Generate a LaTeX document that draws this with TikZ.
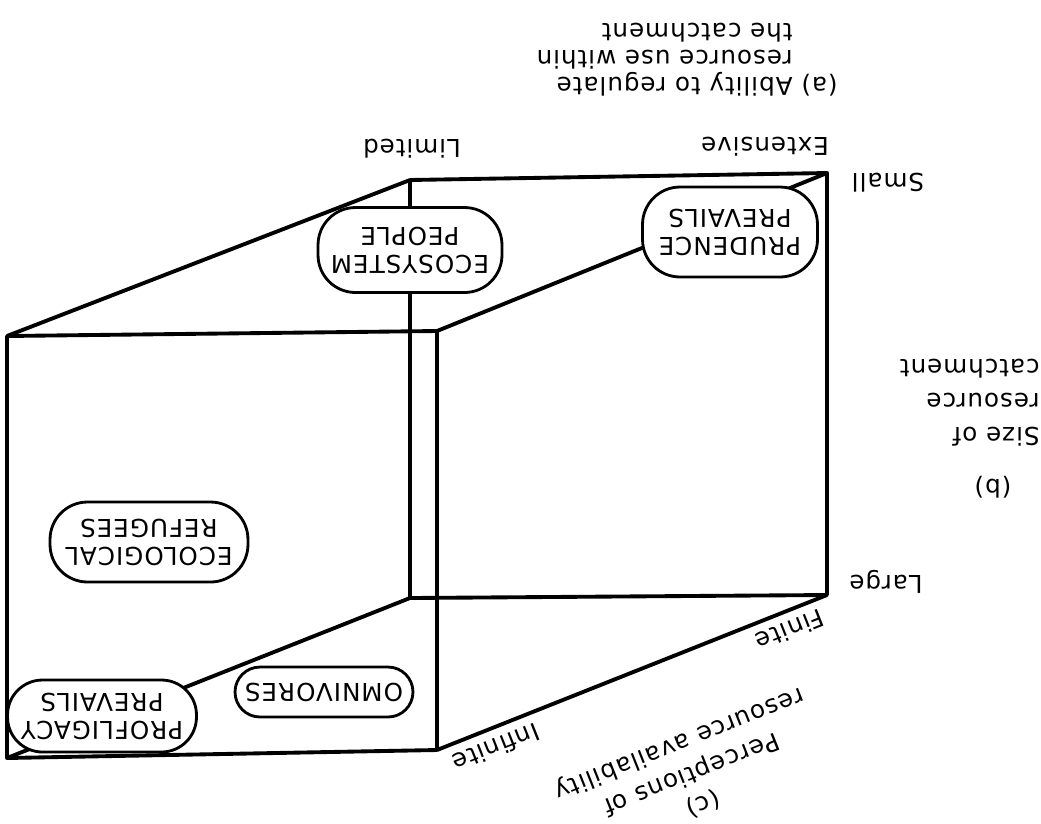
\documentclass[tikz,border=0pt]{standalone}
\usepackage{fontspec}
\setmainfont{DejaVu Sans}[LetterSpace=4]
\usepackage{tikz}

\begin{document}
\begin{tikzpicture}[
    x=0.02cm, y=-0.02cm,
    zone/.style={draw, fill=white, line width=1.6pt, rounded corners=0.75cm, inner sep=0pt, align=center, rotate=180, font=\fontsize{14}{16}\selectfont},
    edge/.style={line width=2.2pt, line join=round},
    tag/.style={inner sep=0pt, rotate=180, font=\fontsize{14}{16}\selectfont},
    slanttag/.style={inner sep=0pt, rotate=201.7, font=\fontsize{14}{18.5}\selectfont}
]
\useasboundingbox (0,0) rectangle (1041,823);

% Corners of the box
\coordinate (frontNW) at (7,336);
\coordinate (frontNE) at (437,331);
\coordinate (frontSE) at (437,750);
\coordinate (frontSW) at (7,758);
\coordinate (backNW) at (410,180);
\coordinate (backNE) at (827,173);
\coordinate (backSE) at (827,595);
\coordinate (backSW) at (410,598);

% Edges
\draw[edge] (frontNW) -- (frontNE) -- (frontSE) -- (frontSW) -- cycle;
\draw[edge] (backNW) -- (backNE) -- (backSE) -- (backSW) -- cycle;
\draw[edge] (frontNW) -- (backNW);
\draw[edge] (frontNE) -- (backNE);
\draw[edge] (frontSE) -- (backSE);
\draw[edge] (frontSW) -- (backSW);

% Zones
\node[zone, minimum width=3.68cm, minimum height=1.7cm] (ecosystem) at (410,250) {ECOSYSTEM\\PEOPLE};
\node[zone, minimum width=3.5cm, minimum height=1.8cm] (prudence) at (730,232) {PRUDENCE\\PREVAILS};
\node[zone, minimum width=3.96cm, minimum height=1.6cm] (ecological) at (149,542) {ECOLOGICAL\\REFUGEES};
\node[zone, rounded corners=0.7cm, minimum width=3.78cm, minimum height=1.44cm] (profligacy) at (102,716) {PROFLIGACY\\PREVAILS};
\node[zone, rounded corners=0.5cm, minimum width=3.56cm, minimum height=1.0cm] (omnivores) at (324,692) {OMNIVORES};

% Axis (a)
\node[tag, anchor=north west, align=left, font=\fontsize{14}{15.6}\selectfont] (ability) at (838,97)
    {(a) Ability to regulate\\\phantom{(a) }resource use within\\\phantom{(a) }the catchment};
\node[tag] (extensive) at (765,147) {Extensive};
\node[tag] (limited) at (412,149) {Limited};

% Axis (b)
\node[tag] (blabel) at (993,487) {(b)};
\node[tag, anchor=west, align=left, font=\fontsize{14}{19.3}\selectfont] (size) at (1040,403)
    {Size of\\resource\\catchment};
\node[tag] (small) at (888,183) {Small};
\node[tag] (large) at (886,582) {Large};

% Axis (c)
\node[slanttag, align=center] (perception) at (691,773)
    {(c)\\Perceptions of\\resource availability};
\node[slanttag] (infinite) at (496,748) {Infinite};
\node[slanttag] (finite) at (790,630) {Finite};

\end{tikzpicture}
\end{document}
